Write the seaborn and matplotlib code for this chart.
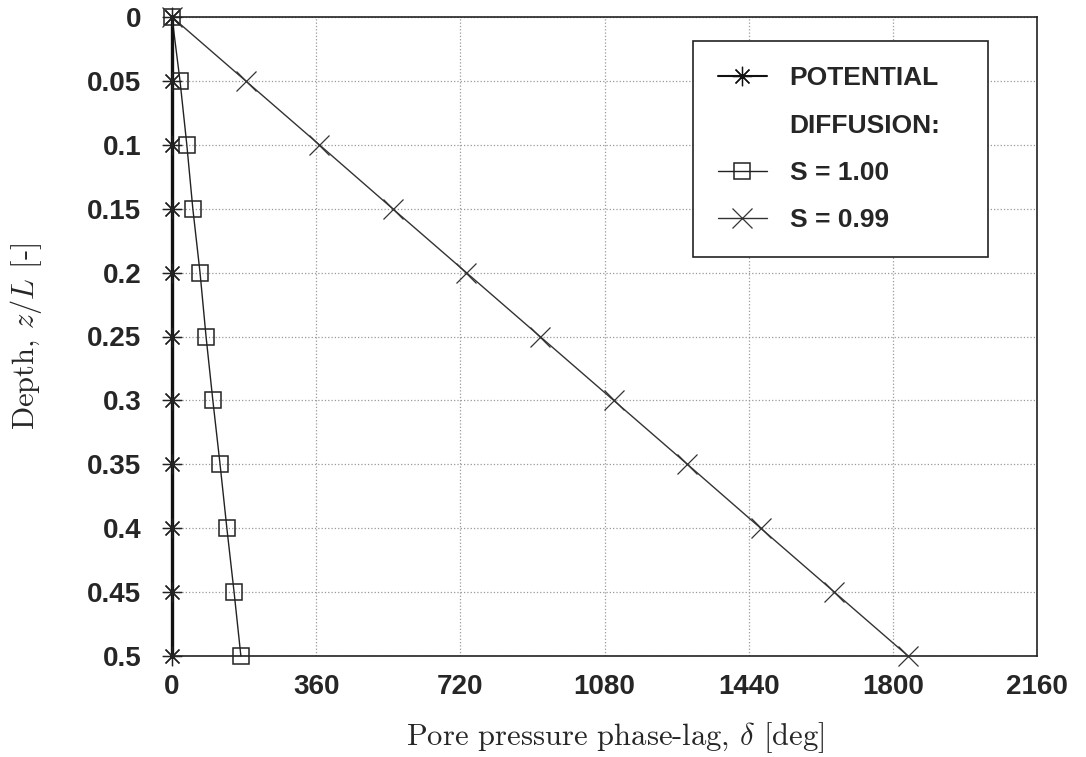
import matplotlib
matplotlib.use("Agg")
import matplotlib.pyplot as plt
import seaborn as sns
import pandas as pd
from matplotlib.lines import Line2D

depth = [0, 0.05, 0.1, 0.15, 0.2, 0.25, 0.3, 0.35, 0.4, 0.45, 0.5]
potential = [0, 0, 0, 0, 0, 0, 0, 0, 0, 0, 0]
s100 = [0, 20, 37, 52, 70, 85, 102, 120, 137, 155, 172]
s099 = [0, 184, 368, 551, 735, 919, 1103, 1287, 1470, 1654, 1838]
xticks = [0, 360, 720, 1080, 1440, 1800, 2160]
yticks = [0, 0.05, 0.1, 0.15, 0.2, 0.25, 0.3, 0.35, 0.4, 0.45, 0.5]
ytick_labels = ["0", "0.05", "0.1", "0.15", "0.2", "0.25", "0.3", "0.35", "0.4", "0.45", "0.5"]

sns.set_theme(style="white")
plt.rcParams["mathtext.fontset"] = "cm"

fig = plt.figure(figsize=(10.86, 7.57), dpi=100)
ax = fig.add_axes([172/1086, 1-656/757, (1037-172)/1086, (656-17)/757])

df = pd.DataFrame({"depth": depth, "pot": potential, "s100": s100, "s099": s099})

ast = (8, 2, 0)
sns.lineplot(data=df, x="pot", y="depth", ax=ax, sort=False, estimator=None,
             color="#111111", lw=2.4, marker=ast, markersize=14,
             markeredgewidth=0.9, markeredgecolor="#222222", zorder=4,
             clip_on=False)
sns.lineplot(data=df, x="s100", y="depth", ax=ax, sort=False, estimator=None,
             color="#222222", lw=1.0, marker="s", markersize=12,
             markerfacecolor="none", markeredgecolor="#222222",
             markeredgewidth=1.1, zorder=3, clip_on=False)
sns.lineplot(data=df, x="s099", y="depth", ax=ax, sort=False, estimator=None,
             color="#333333", lw=1.0, marker="x", markersize=15,
             markeredgewidth=0.9, markeredgecolor="#333333", zorder=3,
             clip_on=False)

ax.set_xlim(0, 2160)
ax.set_ylim(0.5, 0)
ax.set_xticks(xticks)
ax.set_xticklabels([str(v) for v in xticks], fontsize=20, fontweight="bold",
                   family="Liberation Sans")
ax.set_yticks(yticks)
ax.set_yticklabels(ytick_labels, fontsize=20, fontweight="bold",
                   family="Liberation Sans")
ax.tick_params(axis="both", direction="in", length=7, width=1.0, color="#222222")
ax.tick_params(axis="y", pad=22)
ax.tick_params(axis="x", pad=13)
ax.grid(True, linestyle=":", color="#999999", lw=0.9)
for sp in ax.spines.values():
    sp.set_color("#222222")
    sp.set_linewidth(1.2)

ax.set_xlabel(r"Pore pressure phase-lag, $\delta$ [deg]", fontsize=22,
              family="cmr10")
ax.set_ylabel(r"Depth, $z/L$ [-]", fontsize=22, family="cmr10")
ax.xaxis.set_label_coords(0.512, -0.1)
ax.yaxis.set_label_coords(-0.148, 0.5)

handles = [
    Line2D([], [], color="#111111", lw=1.5, marker=ast, markersize=14,
           markeredgewidth=0.9),
    Line2D([], [], color="none"),
    Line2D([], [], color="#222222", lw=1.0, marker="s", markersize=12,
           markerfacecolor="none", markeredgewidth=1.1),
    Line2D([], [], color="#333333", lw=1.0, marker="x", markersize=15,
           markeredgewidth=0.9),
]
labels = ["POTENTIAL", "DIFFUSION:", "S = 1.00", "S = 0.99"]
leg = ax.legend(handles, labels, loc="upper left",
                bbox_to_anchor=(0.602, 0.624, 0.341, 0.338), mode="expand",
                frameon=True, fancybox=False, edgecolor="#222222", framealpha=1,
                borderpad=0.95, labelspacing=0.88, handlelength=1.85,
                handletextpad=0.87, borderaxespad=0,
                prop={"family": "Liberation Sans", "weight": "bold", "size": 19})
leg.get_frame().set_linewidth(1.2)

fig.savefig("out.png", dpi=100)
